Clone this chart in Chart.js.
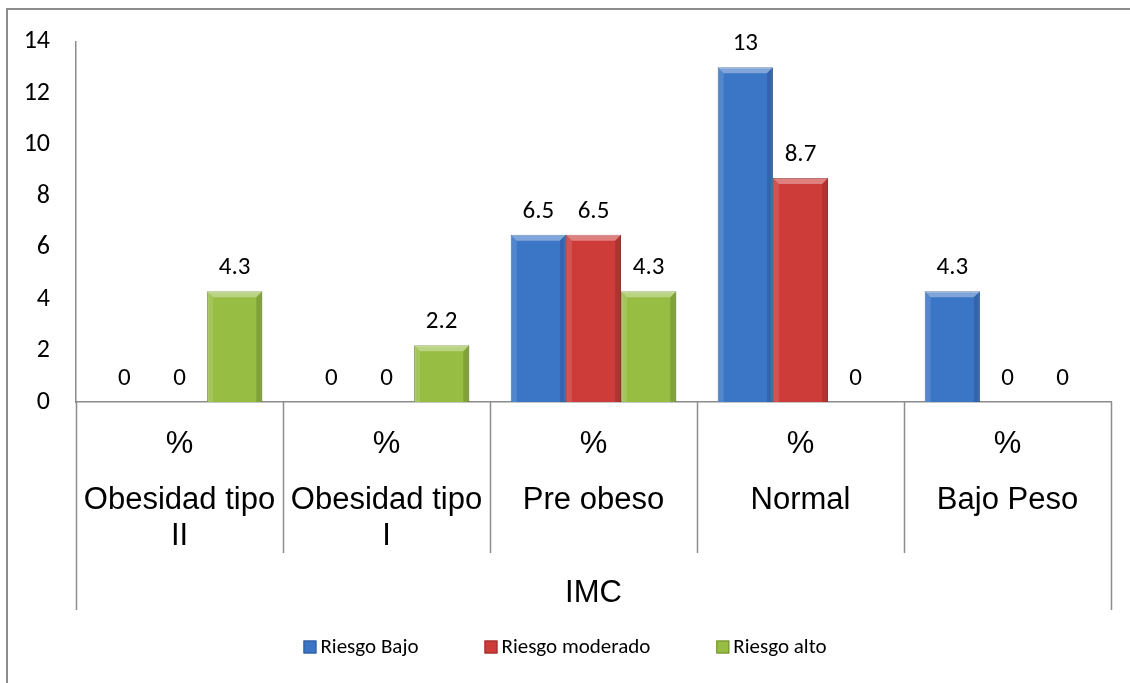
<!DOCTYPE html>
<html>
<head>
<meta charset="utf-8">
<script src="https://cdn.jsdelivr.net/npm/chart.js@4.4.1/dist/chart.umd.min.js"></script>
<style>
  html, body { margin: 0; padding: 0; background: #fff; }
  #wrap { width: 1130px; height: 683px; }
</style>
</head>
<body>
<div id="wrap"><canvas id="imcChart"></canvas></div>
<script>
// chart data
const categories = ['Obesidad tipo II', 'Obesidad tipo I', 'Pre obeso', 'Normal', 'Bajo Peso'];
const categoryLines = [['Obesidad tipo', 'II'], ['Obesidad tipo', 'I'], ['Pre obeso'], ['Normal'], ['Bajo Peso']];
const unitLabel = '%';
const groupLabel = 'IMC';
const seriesNames = ['Riesgo Bajo', 'Riesgo moderado', 'Riesgo alto'];
const riesgoBajo = [0, 0, 6.5, 13, 4.3];
const riesgoModerado = [0, 0, 6.5, 8.7, 0];
const riesgoAlto = [4.3, 2.2, 4.3, 0, 0];
const yMin = 0, yMax = 14, yStep = 2;

const fills = ['#3b76c6', '#cd3c39', '#97bd43'];
const edges = ['#2c5a99', '#992b29', '#6f8f2c'];
const lineGray = '#8c8c8c';
const calibri = 'Carlito, Calibri, Lato, sans-serif';
const arial = '"Liberation Sans", Arial, sans-serif';

// soft bevel on each bar, roughly like the office style
const bevel = {
    id: 'bevel',
    afterDatasetsDraw(chart) {
        const ctx = chart.ctx;
        const b = 6;
        ctx.save();
        chart.data.datasets.forEach((ds, di) => {
            chart.getDatasetMeta(di).data.forEach(bar => {
                const l = bar.x - bar.width / 2, r = bar.x + bar.width / 2;
                const t = bar.y, base = bar.base;
                if (base - t < 2 * b) return;
                const poly = (pts, col) => {
                    ctx.beginPath();
                    ctx.moveTo(pts[0][0], pts[0][1]);
                    pts.slice(1).forEach(p => ctx.lineTo(p[0], p[1]));
                    ctx.closePath();
                    ctx.fillStyle = col;
                    ctx.fill();
                };
                poly([[l, t], [r, t], [r - b, t + b], [l + b, t + b]], 'rgba(255,255,255,0.35)');
                poly([[l, t], [l + b, t + b], [l + b, base], [l, base]], 'rgba(255,255,255,0.12)');
                poly([[r, t], [r - b, t + b], [r - b, base], [r, base]], 'rgba(0,0,0,0.14)');
            });
        });
        ctx.restore();
    }
};

// frame, separators, category labels, value labels and legend
const decorations = {
    id: 'decorations',
    beforeDraw(chart) {
        const ctx = chart.ctx;
        ctx.save();
        ctx.strokeStyle = lineGray;
        ctx.lineWidth = 2;
        ctx.strokeRect(7, 9, 1200, 800);
        ctx.restore();
    },
    afterDraw(chart) {
        const ctx = chart.ctx;
        const area = chart.chartArea;
        const x = chart.scales.x;
        const step = (area.right - area.left) / categories.length;
        ctx.save();

        // separators below the axis
        ctx.strokeStyle = lineGray;
        ctx.lineWidth = 1.5;
        for (let i = 0; i <= categories.length; i++) {
            const px = Math.round(area.left + i * step) + 0.5;
            const len = (i === 0 || i === categories.length) ? 208 : 151;
            ctx.beginPath();
            ctx.moveTo(px, area.bottom);
            ctx.lineTo(px, area.bottom + len);
            ctx.stroke();
        }

        // category labels
        ctx.fillStyle = '#000';
        ctx.textAlign = 'center';
        ctx.textBaseline = 'alphabetic';
        ctx.font = '31px ' + arial;
        categories.forEach((c, i) => {
            const cx = x.getPixelForValue(i);
            ctx.fillText(unitLabel, cx, area.bottom + 51);
            categoryLines[i].forEach((line, j) => {
                ctx.fillText(line, cx, area.bottom + 107 + j * 36);
            });
        });
        ctx.fillText(groupLabel, (area.left + area.right) / 2, area.bottom + 200);

        // value labels
        ctx.font = '25px ' + calibri;
        chart.data.datasets.forEach((ds, di) => {
            chart.getDatasetMeta(di).data.forEach((bar, i) => {
                ctx.fillText(String(ds.data[i]), bar.x, bar.y - 17);
            });
        });

        // legend
        ctx.font = '21px ' + calibri;
        ctx.textAlign = 'left';
        ctx.textBaseline = 'middle';
        const box = 13, gapText = 4, gapItem = 66;
        const widths = seriesNames.map(n => box + gapText + ctx.measureText(n).width);
        const total = widths.reduce((a, b) => a + b, 0) + gapItem * (widths.length - 1);
        let lx = chart.width / 2 - total / 2;
        const ly = 647;
        seriesNames.forEach((n, i) => {
            ctx.fillStyle = fills[i];
            ctx.fillRect(lx, ly - box / 2, box, box);
            ctx.strokeStyle = edges[i];
            ctx.lineWidth = 1;
            ctx.strokeRect(lx + 0.5, ly - box / 2 + 0.5, box - 1, box - 1);
            ctx.fillStyle = '#000';
            ctx.fillText(n, lx + box + gapText, ly + 1);
            lx += widths[i] + gapItem;
        });
        ctx.restore();
    }
};

const ctx = document.getElementById('imcChart').getContext('2d');

const imcChart = new Chart(ctx, {
    type: 'bar',
    data: {
        labels: categories,
        datasets: [
            { label: seriesNames[0], data: riesgoBajo },
            { label: seriesNames[1], data: riesgoModerado },
            { label: seriesNames[2], data: riesgoAlto }
        ].map((d, i) => Object.assign(d, {
            backgroundColor: fills[i],
            borderColor: edges[i],
            borderWidth: 1,
            categoryPercentage: 0.8,
            barPercentage: 1.0
        }))
    },
    options: {
        responsive: true,
        maintainAspectRatio: false,
        animation: false,
        layout: { padding: { left: 19, right: 19, top: 40, bottom: 73 } },
        plugins: {
            legend: { display: false },
            tooltip: { enabled: false }
        },
        scales: {
            x: {
                ticks: { display: false },
                grid: { display: false },
                border: { display: true, color: lineGray, width: 1.5 },
                afterFit(scale) { scale.height = 208; }
            },
            y: {
                min: yMin,
                max: yMax,
                ticks: {
                    stepSize: yStep,
                    padding: 26,
                    color: '#000',
                    font: { family: calibri, size: 26 }
                },
                grid: { display: false, drawTicks: false },
                border: { display: true, color: lineGray, width: 1.5 },
                afterFit(scale) { scale.width = 57; }
            }
        }
    },
    plugins: [bevel, decorations]
});
</script>
</body>
</html>
